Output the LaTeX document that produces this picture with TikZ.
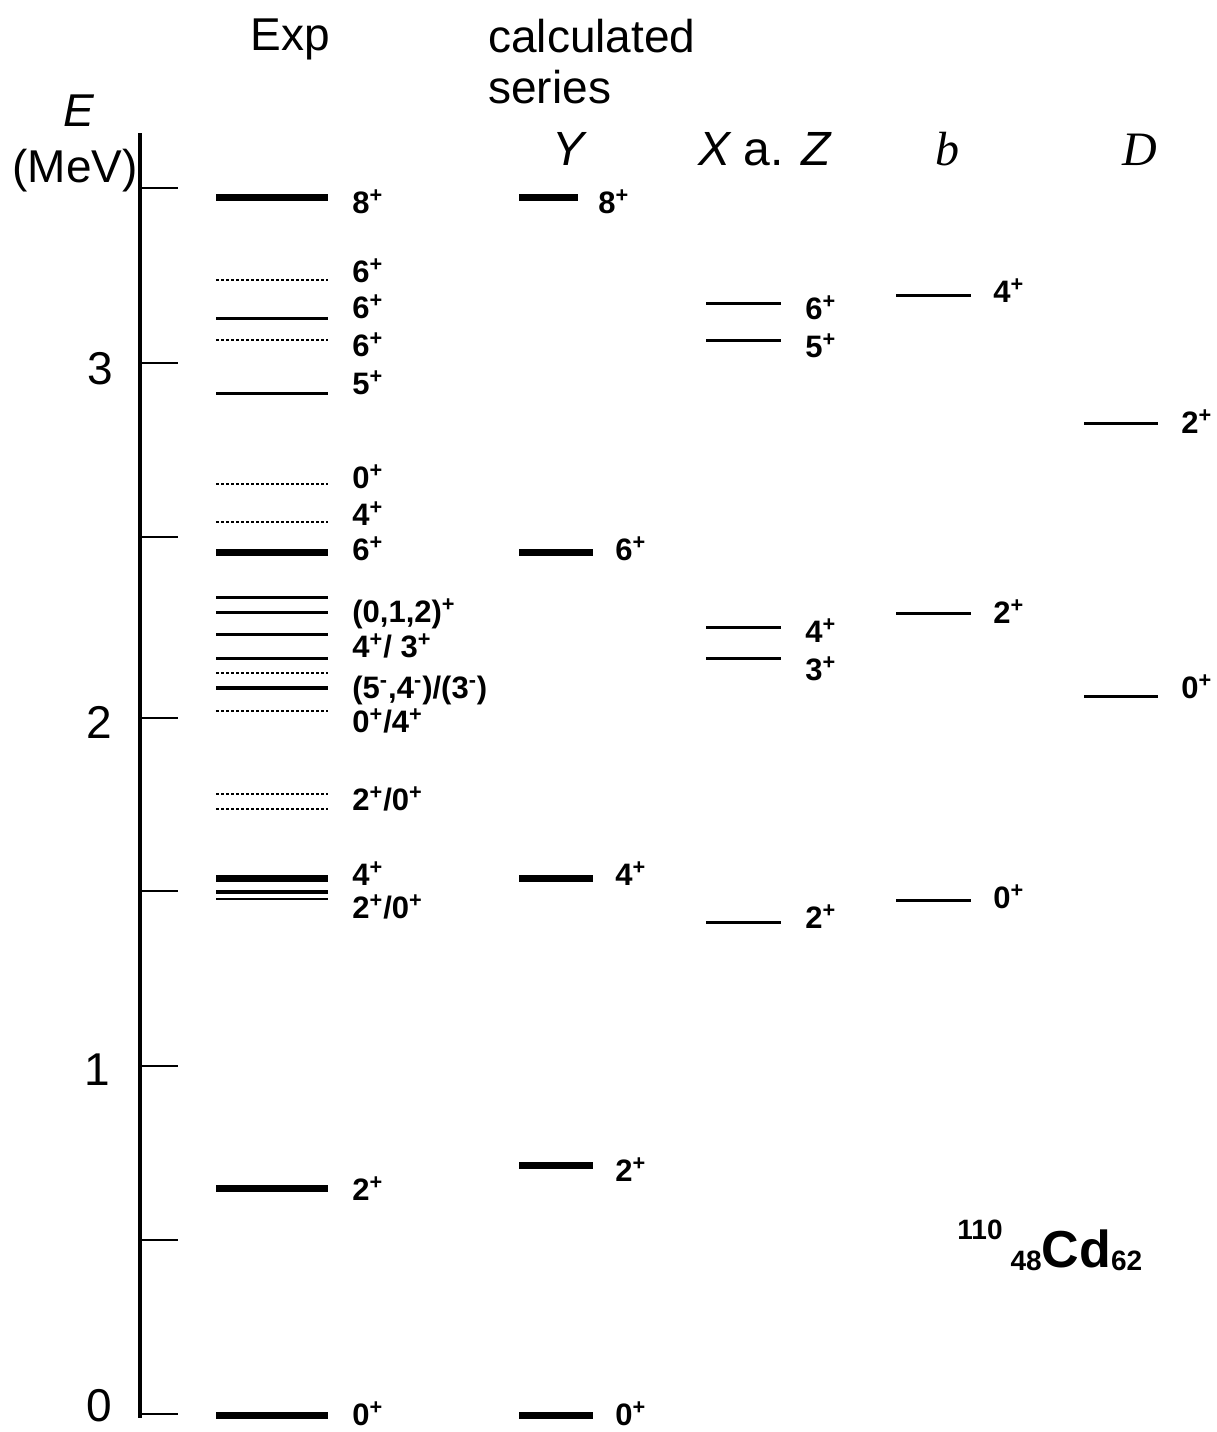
\documentclass[tikz,border=0pt]{standalone}
\usepackage{fontspec}
\setmainfont{Liberation Sans}
\newfontfamily\hdserif{Liberation Serif}
\newcommand\psup[1]{\textsuperscript{#1}}
\begin{document}
\begin{tikzpicture}[x=0.5pt,y=-0.5pt,
  big/.style={inner sep=0pt, font=\fontsize{23}{23}\selectfont},
  hdr/.style={inner sep=0pt, anchor=base west, font=\fontsize{24}{24}\selectfont},
  lab/.style={anchor=base west, inner sep=0pt, font=\fontsize{15.5}{15.5}\selectfont\bfseries},
  axisline/.style={line width=1.6pt},
  tickline/.style={line width=1.4pt},
  lvthick/.style={line width=3.5pt},
  lvmed/.style={line width=1.8pt},
  lvthin/.style={line width=1.5pt},
  lvthinner/.style={line width=1.1pt},
  lvdot/.style={line width=1.4pt, dash pattern=on 1.5pt off 1pt}]
\useasboundingbox (0,0) rectangle (1217,1432);

% headers
\node[big, anchor=base west] (hexp) at (250,50) {Exp};
\node[big, anchor=base west] (hcalc) at (488,52) {calculated};
\node[big, anchor=base west] (hser) at (488,103) {series};
\node[big, anchor=base west] (hE) at (63,126) {\itshape E};
\node[big, anchor=base west] (hMeV) at (12,182) {(MeV)};
\node[hdr] (hY) at (552,165) {\itshape Y};
\node[hdr] (hXZ) at (698,165) {{\itshape X} a. {\itshape Z}};
\node[hdr] (hb) at (935,165) {\hdserif\itshape b};
\node[hdr] (hD) at (1122,165) {\hdserif\itshape D};

% axis
\draw[axisline] (140,133) -- (140,1418);
\foreach \t in {188,363,537,718,891,1066,1240,1414}
  \draw[tickline] (140,\t) -- (178,\t);
\node[big, anchor=base east] (n3) at (113,384) {3};
\node[big, anchor=base east] (n2) at (112,738) {2};
\node[big, anchor=base east] (n1) at (110,1085) {1};
\node[big, anchor=base east] (n0) at (112,1421) {0};

% Exp levels
\draw[lvthick] (216,197) -- (328,197);
\draw[lvdot]   (216,280) -- (328,280);
\draw[lvthin]  (216,318) -- (328,318);
\draw[lvdot]   (216,340) -- (328,340);
\draw[lvthin]  (216,393) -- (328,393);
\draw[lvdot]   (216,484) -- (328,484);
\draw[lvdot]   (216,522) -- (328,522);
\draw[lvthick] (216,552) -- (328,552);
\draw[lvthin]  (216,597) -- (328,597);
\draw[lvthin]  (216,612) -- (328,612);
\draw[lvthin]  (216,634) -- (328,634);
\draw[lvthin]  (216,658) -- (328,658);
\draw[lvdot]   (216,673) -- (328,673);
\draw[lvmed]   (216,688) -- (328,688);
\draw[lvdot]   (216,711) -- (328,711);
\draw[lvdot]   (216,794) -- (328,794);
\draw[lvdot]   (216,809) -- (328,809);
\draw[lvthick] (216,878) -- (328,878);
\draw[lvmed]   (216,892) -- (328,892);
\draw[lvthinner] (216,899) -- (328,899);
\draw[lvthick] (216,1188) -- (328,1188);
\draw[lvthick] (216,1415) -- (328,1415);

\node[lab] (e1) at (352,213) {8\psup{+}};
\node[lab] (e2) at (352,282) {6\psup{+}};
\node[lab] (e3) at (352,318) {6\psup{+}};
\node[lab] (e4) at (352,356) {6\psup{+}};
\node[lab] (e5) at (352,394) {5\psup{+}};
\node[lab] (e6) at (352,488) {0\psup{+}};
\node[lab] (e7) at (352,525) {4\psup{+}};
\node[lab] (e8) at (352,560) {6\psup{+}};
\node[lab] (e9) at (352,622) {(0,1,2)\psup{+}};
\node[lab] (e10) at (352,657) {4\psup{+}/ 3\psup{+}};
\node[lab] (e11) at (352,698) {(5\psup{-},4\psup{-})/(3\psup{-})};
\node[lab] (e12) at (352,732) {0\psup{+}/4\psup{+}};
\node[lab] (e13) at (352,810) {2\psup{+}/0\psup{+}};
\node[lab] (e14) at (352,885) {4\psup{+}};
\node[lab] (e15) at (352,918) {2\psup{+}/0\psup{+}};
\node[lab] (e16) at (352,1200) {2\psup{+}};
\node[lab] (e17) at (352,1425) {0\psup{+}};

% Y levels
\draw[lvthick] (519,197) -- (578,197);
\draw[lvthick] (519,552) -- (593,552);
\draw[lvthick] (519,878) -- (593,878);
\draw[lvthick] (519,1165) -- (593,1165);
\draw[lvthick] (519,1415) -- (593,1415);
\node[lab] (y1) at (598,213) {8\psup{+}};
\node[lab] (y2) at (615,560) {6\psup{+}};
\node[lab] (y3) at (615,885) {4\psup{+}};
\node[lab] (y4) at (615,1181) {2\psup{+}};
\node[lab] (y5) at (615,1425) {0\psup{+}};

% X a. Z levels
\draw[lvthin] (706,303) -- (781,303);
\draw[lvthin] (706,340) -- (781,340);
\draw[lvthin] (706,627) -- (781,627);
\draw[lvthin] (706,658) -- (781,658);
\draw[lvthin] (706,922) -- (781,922);
\node[lab] (x1) at (805,319) {6\psup{+}};
\node[lab] (x2) at (805,357) {5\psup{+}};
\node[lab] (x3) at (805,642) {4\psup{+}};
\node[lab] (x4) at (805,680) {3\psup{+}};
\node[lab] (x5) at (805,928) {2\psup{+}};

% b levels
\draw[lvthin] (896,295) -- (971,295);
\draw[lvthin] (896,613) -- (971,613);
\draw[lvthin] (896,900) -- (971,900);
\node[lab] (b1) at (993,302) {4\psup{+}};
\node[lab] (b2) at (993,623) {2\psup{+}};
\node[lab] (b3) at (993,908) {0\psup{+}};

% D levels
\draw[lvthin] (1084,423) -- (1158,423);
\draw[lvthin] (1084,696) -- (1158,696);
\node[lab] (d1) at (1181,433) {2\psup{+}};
\node[lab] (d2) at (1181,698) {0\psup{+}};

% nucleus label
\node[anchor=base west, inner sep=0pt, font=\bfseries] (nuc) at (957,1267)
  {\fontsize{14}{14}\selectfont\raisebox{14pt}{110}\hspace{4pt}\raisebox{-1.5pt}{48}\fontsize{26}{26}\selectfont Cd\fontsize{14}{14}\selectfont\raisebox{-1.5pt}{62}};
\end{tikzpicture}
\end{document}
